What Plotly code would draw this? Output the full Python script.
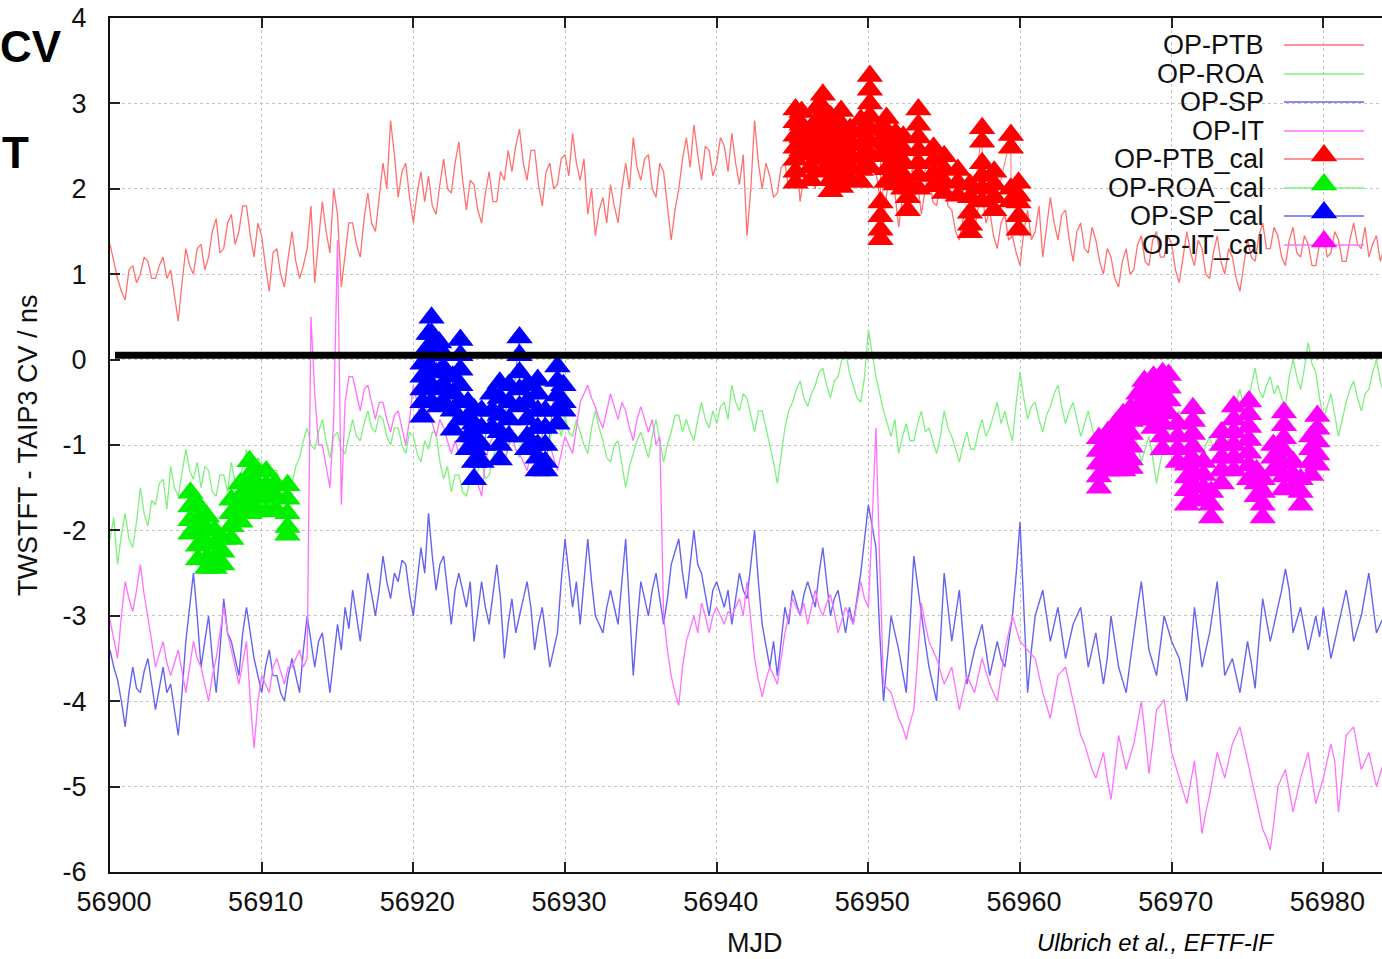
import plotly.graph_objects as go

# ---------------- data (MJD grid: 4 samples per day from 56900) ----------------
MJD_START = 56900
STEP = 0.25

OP_PTB = [
    1.35, 1.15, 0.95, 0.8,   0.7, 1.05, 1.1, 0.9,   1.0, 1.2, 1.15, 0.95,   0.95, 1.1, 1.2, 0.95,   1.05, 0.75, 0.45, 0.9,
    1.3, 1.1, 1.0, 1.3,   1.35, 1.05, 1.2, 1.5,   1.65, 1.25, 1.3, 1.6,   1.7, 1.35, 1.5, 1.8,   1.8, 1.45, 1.2, 1.6,
    1.45, 1.1, 0.8, 1.25,   1.3, 1.0, 0.85, 1.2,   1.5, 1.15, 0.95, 1.1,   1.3, 1.8, 0.9, 1.4,   1.85, 1.5, 1.25, 2.0,
    1.7, 0.85, 1.25, 1.6,   1.6, 1.35, 1.2, 1.65,   1.95, 1.6, 1.5, 1.9,   2.3, 2.0, 2.8, 2.4,   1.9, 2.2, 2.3, 1.9,
    1.6, 1.95, 2.2, 1.85,   2.15, 1.8, 1.7, 2.05,   2.35, 2.0, 1.95, 2.3,   2.55, 2.1, 1.75, 2.1,   2.05, 1.75, 1.6, 1.95,
    2.2, 1.85, 1.85, 2.2,   2.1, 2.45, 2.2, 2.5,   2.7, 2.3, 2.1, 2.45,   2.45, 2.05, 1.8, 2.2,   2.3, 2.0, 2.05, 2.35,
    2.4, 2.15, 2.65, 2.3,   2.1, 2.35, 1.7, 2.0,   1.45, 1.75, 1.9, 1.6,   2.05, 1.8, 1.6, 2.0,   2.3, 2.0, 2.6, 2.25,
    2.1, 2.35, 2.4, 2.0,   1.9, 2.3, 2.2, 1.8,   1.4, 1.75, 2.0, 2.35,   2.6, 2.25, 2.75, 2.4,   2.1, 2.5, 2.45, 2.15,
    2.3, 2.6, 2.5, 2.2,   2.65, 2.3, 2.05, 2.4,   1.45, 2.0, 2.8, 2.3,   2.0, 2.3, 2.15, 1.9,   1.95, 2.25, 2.3, 2.0,
    2.2, 2.45, 1.85, 2.15,   2.4, 2.1, 2.0, 2.35,   2.6, 2.25, 2.2, 2.5,   2.3, 2.0, 2.6, 2.3,   2.45, 2.15, 2.1, 2.4,
    2.7, 2.35, 2.2, 1.9,   1.6, 2.0, 2.3, 1.95,   1.55, 1.9, 2.1, 1.8,   2.4, 2.05, 1.7, 2.0,   2.2, 1.85, 1.8, 2.1,
    2.1, 1.8, 1.75, 1.5,   1.4, 1.65, 1.8, 1.5,   1.5, 1.8, 1.95, 1.6,   1.75, 1.45, 1.3, 1.6,   1.7, 1.4, 1.45, 1.25,
    1.1, 1.5, 1.75, 1.4,   1.5, 1.8, 1.2, 1.55,   1.9, 1.6, 1.4, 1.7,   1.75, 1.4, 1.15, 1.5,   1.6, 1.3, 1.25, 1.55,
    1.4, 1.15, 1.0, 1.3,   1.2, 0.95, 0.85, 1.15,   1.3, 1.0, 1.05, 1.35,   1.45, 1.15, 1.1, 1.4,   1.5, 1.2, 1.2, 1.45,
    1.35, 1.05, 0.9, 1.2,   1.5, 1.25, 1.1, 1.4,   1.3, 1.0, 0.95, 1.25,   1.45, 1.15, 1.0, 1.3,   1.2, 0.95, 0.8, 1.1,
    1.4, 1.2, 1.15, 1.45,   1.6, 1.3, 1.3, 1.55,   1.45, 1.2, 1.1, 1.4,   1.55, 1.25, 1.2, 1.45,   1.35, 1.1, 1.1, 1.35,
    1.5, 1.2, 1.25, 1.5,   1.4, 1.15, 1.15, 1.4,   1.6, 1.35, 1.3, 1.55,   1.2, 1.35, 1.45, 1.15,   1.3,
]

OP_ROA = [
    -2.1, -1.85, -2.4, -2.05,   -1.8, -2.1, -2.2, -1.9,   -1.5, -1.8, -1.95, -1.65,   -1.7, -1.45, -1.4, -1.75,   -1.25, -1.5, -1.6, -1.3,
    -1.05, -1.3, -1.4, -1.2,   -1.5, -1.25, -1.3, -1.55,   -1.6, -1.35, -1.35, -1.55,   -1.2, -1.45, -1.45, -1.25,   -1.05, -1.3, -1.35, -1.15,
    -1.2, -1.4, -1.5, -1.3,   -1.3, -1.5, -1.6, -1.35,   -1.45, -1.25, -1.15, -0.95,   -0.8, -1.0, -1.05, -0.85,   -0.7, -0.95, -1.15, -0.9,
    -0.85, -1.05, -1.1, -0.9,   -0.7, -0.9, -0.95, -0.75,   -0.6, -0.8, -0.85, -0.65,   -0.7, -0.9, -1.0, -0.8,   -0.8, -1.0, -1.1, -0.85,
    -0.9, -1.1, -1.2, -0.95,   -1.05, -0.85, -0.85, -1.2,   -1.4, -1.25, -1.55, -1.35,   -1.35, -1.55, -1.6, -1.4,   -1.45, -1.3, -1.2, -1.4,
    -1.35, -1.15, -1.0, -1.2,   -1.2, -1.0, -0.85, -1.05,   -1.15, -0.9, -0.95, -1.15,   -0.9, -1.1, -1.25, -1.05,   -0.95, -0.75, -0.7, -0.9,
    -0.65, -0.85, -0.9, -0.7,   -0.85, -1.0, -1.1, -0.8,   -0.6, -0.8, -0.95, -1.15,   -1.2, -1.0, -0.95, -1.25,   -1.5, -1.25, -1.1, -0.95,
    -0.85, -1.0, -1.15, -0.9,   -0.7, -0.95, -1.2, -1.0,   -0.85, -0.65, -0.65, -0.85,   -0.7, -0.85, -0.95, -0.7,   -0.5, -0.7, -0.8, -0.6,
    -0.75, -0.55, -0.5, -0.7,   -0.3, -0.5, -0.6, -0.4,   -0.45, -0.65, -0.85, -0.6,   -0.6, -0.8, -1.0, -1.2,   -1.45, -1.1, -0.8, -0.6,
    -0.5, -0.35, -0.25, -0.45,   -0.55, -0.4, -0.3, -0.15,   -0.1, -0.3, -0.45, -0.25,   -0.2, 0.0, 0.1, -0.15,   -0.3, -0.45, -0.5, -0.2,
    0.35, 0.05, -0.2, -0.4,   -0.6, -0.75, -0.9, -0.7,   -1.1, -0.9, -0.75, -0.95,   -0.95, -0.75, -0.6, -0.85,   -0.8, -0.95, -1.1, -0.9,
    -0.6, -0.8, -0.9, -1.05,   -1.2, -1.0, -0.85, -1.05,   -1.05, -0.85, -0.7, -0.9,   -0.8, -0.65, -0.5, -0.75,   -0.6, -0.8, -0.95, -0.5,
    -0.15, -0.45, -0.7, -0.55,   -0.5, -0.7, -0.85, -0.65,   -0.55, -0.4, -0.3, -0.55,   -0.75, -0.6, -0.5, -0.7,   -0.9, -0.75, -0.6, -0.8,
    -0.95, -1.1, -1.15, -0.9,   -0.7, -0.85, -0.95, -0.75,   -0.6, -0.75, -0.85, -1.0,   -1.2, -1.05, -0.9, -1.15,   -1.45, -1.2, -1.0, -0.85,
    -0.8, -0.65, -0.6, -0.8,   -0.85, -1.0, -1.1, -0.95,   -1.15, -1.0, -0.9, -1.05,   -0.9, -1.05, -1.2, -0.9,   -0.65, -0.5, -0.35, -0.55,
    -0.6, -0.3, -0.1, -0.35,   -0.45, -0.3, -0.2, -0.4,   -0.3, -0.45, -0.55, -0.2,   0.0, -0.2, -0.35, -0.1,   0.2, -0.05, -0.15, -0.45,
    -0.7, -0.55, -0.4, -0.65,   -0.9, -0.7, -0.5, -0.35,   -0.25, -0.45, -0.6, -0.4,   -0.35, -0.15, 0.0, -0.25,   -0.4,
]

OP_SP = [
    -3.4, -3.6, -3.75, -4.0,   -4.3, -3.9, -3.6, -3.85,   -3.9, -3.65, -3.5, -3.8,   -4.1, -3.85, -3.6, -3.9,   -3.8, -4.1, -4.4, -3.9,
    -3.3, -2.9, -2.5, -3.0,   -3.6, -3.3, -3.0, -3.5,   -3.9, -3.4, -2.8, -3.2,   -3.3, -3.5, -3.7, -3.2,   -2.9, -3.2, -3.5, -3.7,
    -3.9, -3.6, -3.4, -3.7,   -3.7, -3.9, -4.0, -3.7,   -3.5, -3.7, -3.9, -3.4,   -3.0, -3.3, -3.6, -3.3,   -3.2, -3.55, -3.9, -3.5,
    -3.1, -3.4, -2.9, -3.15,   -2.7, -3.0, -3.3, -2.9,   -2.5, -2.75, -3.0, -2.7,   -2.3, -2.6, -2.8, -2.5,   -2.6, -2.35, -2.4, -2.75,
    -3.0, -2.6, -2.2, -2.5,   -1.8, -2.3, -2.7, -2.4,   -2.3, -2.7, -3.1, -2.7,   -2.5, -2.7, -2.9, -2.6,   -3.3, -2.95, -2.6, -2.9,
    -3.1, -2.75, -2.4, -2.8,   -3.5, -3.1, -2.8, -3.2,   -3.0, -2.8, -2.6, -2.9,   -3.4, -3.1, -2.9, -3.25,   -3.6, -3.4, -3.2, -2.6,
    -2.1, -2.5, -2.9, -2.6,   -3.1, -2.6, -2.1, -2.6,   -3.0, -3.1, -3.2, -2.9,   -2.7, -2.9, -3.1, -2.6,   -2.1, -2.9, -3.7, -3.1,
    -2.6, -2.8, -3.0, -2.7,   -2.5, -2.8, -3.1, -2.8,   -2.4, -2.25, -2.1, -2.5,   -2.8, -2.4, -2.0, -2.4,   -2.5, -2.75, -3.0, -2.7,
    -2.6, -2.75, -2.9, -2.7,   -3.1, -2.8, -2.5, -2.7,   -2.8, -2.4, -2.0, -2.6,   -3.1, -3.35, -3.6, -3.3,   -3.7, -3.3, -2.9, -3.1,
    -2.7, -2.85, -3.0, -2.75,   -2.6, -2.75, -2.9, -2.5,   -2.2, -2.6, -3.0, -2.8,   -2.7, -2.95, -3.2, -2.9,   -3.1, -2.8, -2.5, -2.1,
    -1.7, -1.95, -2.2, -3.2,   -4.0, -3.5, -3.0, -3.2,   -3.4, -3.65, -3.9, -3.1,   -2.3, -2.65, -3.0, -3.3,   -3.6, -3.8, -4.0, -3.3,
    -2.5, -2.9, -3.3, -3.0,   -2.7, -3.25, -3.8, -3.6,   -3.4, -3.25, -3.1, -3.4,   -3.7, -3.5, -3.3, -3.5,   -3.6, -3.3, -3.0, -2.5,
    -1.9, -2.9, -3.9, -3.4,   -3.0, -2.85, -2.7, -3.0,   -3.3, -3.1, -2.9, -3.2,   -3.5, -3.3, -3.1, -3.0,   -2.9, -3.25, -3.6, -3.4,
    -3.2, -3.5, -3.8, -3.5,   -3.0, -3.3, -3.6, -3.75,   -3.9, -3.55, -3.2, -2.9,   -2.6, -3.0, -3.4, -3.55,   -3.7, -3.35, -3.0, -3.15,
    -3.3, -3.4, -3.5, -3.75,   -4.0, -3.45, -2.9, -3.25,   -3.6, -3.4, -3.2, -2.9,   -2.6, -3.15, -3.7, -3.6,   -3.5, -3.7, -3.9, -3.6,
    -3.3, -3.55, -3.85, -3.3,   -2.8, -3.05, -3.3, -3.1,   -2.9, -2.7, -2.45, -2.7,   -3.2, -3.05, -2.9, -3.15,   -3.4, -3.2, -3.0, -3.25,
    -2.9, -3.2, -3.5, -3.3,   -3.1, -2.9, -2.7, -2.95,   -3.3, -3.15, -3.0, -2.75,   -2.5, -2.85, -3.2, -3.1,   -3.0,
]

OP_IT = [
    -3.05, -3.3, -3.5, -3.0,   -2.6, -2.8, -2.95, -2.7,   -2.4, -2.75, -3.0, -3.3,   -3.6, -3.45, -3.3, -3.55,   -3.7, -3.55, -3.4, -3.65,
    -3.9, -3.6, -3.3, -3.5,   -3.6, -3.8, -4.0, -3.7,   -3.5, -3.2, -2.9, -3.2,   -3.4, -3.6, -3.8, -3.55,   -3.3, -4.0, -4.55, -4.0,
    -3.7, -3.8, -3.9, -3.6,   -3.5, -3.65, -3.8, -3.6,   -3.6, -3.5, -3.4, -3.6,   -3.5, 0.5, -0.4, -1.0,   -1.0, -1.25, -1.5, -0.7,
    1.4, -1.7, -0.5, -0.2,   -0.2, -0.4, -0.6, -0.35,   -0.3, -0.5, -0.7, -0.5,   -0.5, -0.7, -0.85, -0.65,   -0.6, -0.8, -1.0, -0.7,
    -0.3, -0.5, -0.7, -0.55,   -0.6, -0.75, -0.9, -0.7,   -0.8, -0.95, -1.1, -0.95,   -1.1, -1.0, -0.9, -1.1,   -1.3, -1.45, -1.6, -1.2,
    -1.0, -0.9, -0.8, -1.0,   -1.2, -1.05, -0.9, -1.05,   -1.1, -1.2, -1.3, -1.1,   -0.9, -1.05, -1.2, -1.05,   -1.0, -1.15, -1.3, -1.1,
    -0.9, -1.0, -1.1, -0.8,   -0.5, -0.4, -0.3, -0.45,   -0.55, -0.7, -0.8, -0.6,   -0.4, -0.55, -0.7, -0.5,   -0.6, -0.8, -0.95, -0.7,
    -0.55, -0.7, -0.85, -0.7,   -1.0, -0.9, -3.0, -3.4,   -3.7, -3.9, -4.05, -3.6,   -3.3, -3.15, -3.0, -3.2,   -2.85, -3.0, -3.2, -3.0,
    -2.9, -3.0, -3.1, -2.95,   -3.0, -2.9, -2.8, -3.0,   -2.6, -3.05, -3.5, -3.75,   -3.95, -3.75, -3.6, -3.7,   -3.8, -3.5, -3.2, -3.0,
    -2.8, -2.9, -3.0, -2.85,   -3.1, -2.9, -2.7, -2.9,   -3.0, -2.85, -2.75, -2.95,   -3.2, -3.05, -2.9, -3.0,   -3.1, -2.85, -2.6, -2.8,
    -2.9, -1.9, -0.8, -2.4,   -3.8, -3.85, -3.9, -4.05,   -4.2, -4.3, -4.45, -4.25,   -4.1, -3.5, -2.85, -3.1,   -3.3, -3.4, -3.5, -3.65,
    -3.8, -3.7, -3.6, -3.85,   -4.1, -3.9, -3.7, -3.8,   -3.9, -3.7, -3.5, -3.65,   -3.8, -3.9, -4.0, -3.7,   -3.4, -3.2, -3.0, -3.15,
    -3.3, -3.35, -3.4, -3.45,   -3.5, -3.7, -3.9, -4.05,   -4.2, -3.95, -3.7, -3.65,   -3.6, -3.8, -4.0, -4.2,   -4.4, -4.5, -4.65, -4.8,
    -4.9, -4.75, -4.6, -4.9,   -5.15, -4.8, -4.4, -4.6,   -4.8, -4.65, -4.5, -4.25,   -4.0, -4.4, -4.85, -4.5,   -4.1, -4.05, -3.98, -4.3,
    -4.6, -4.75, -4.9, -5.05,   -5.2, -4.95, -4.7, -5.1,   -5.55, -5.3, -5.1, -4.85,   -4.6, -4.75, -4.9, -4.7,   -4.5, -4.4, -4.3, -4.5,
    -4.7, -4.9, -5.1, -5.3,   -5.5, -5.6, -5.74, -5.4,   -5.0, -4.9, -4.8, -5.05,   -5.3, -5.1, -4.9, -4.75,   -4.6, -4.9, -5.2, -5.05,
    -4.9, -4.7, -4.5, -4.7,   -5.3, -4.85, -4.4, -4.35,   -4.3, -4.55, -4.8, -4.7,   -4.6, -4.8, -5.0, -4.85,   -4.7,
]

# calibration campaigns: (MJD, [values stacked at that MJD])
PTB_CAL = [
    (56945.2, [2.93, 2.78, 2.62, 2.48, 2.34, 2.2, 2.07]),
    (56945.6, [2.9, 2.75, 2.6, 2.45]),
    (56946.2, [2.7, 2.55, 2.4, 2.25, 2.1]),
    (56946.6, [2.95, 2.8, 2.65, 2.5, 2.35]),
    (56947.0, [3.1, 2.95, 2.8, 2.65, 2.5, 2.35, 2.2]),
    (56947.5, [2.85, 2.7, 2.55, 2.4, 2.25, 2.1, 1.97]),
    (56948.2, [2.91, 2.76, 2.61, 2.46, 2.31, 2.16, 2.02]),
    (56948.8, [2.7, 2.55, 2.4, 2.25, 2.1]),
    (56949.5, [2.81, 2.66, 2.51, 2.36, 2.22, 2.08]),
    (56950.1, [3.32, 3.16, 3.0, 2.85, 2.7, 2.55, 2.4, 2.25]),
    (56950.8, [2.7, 2.55, 2.4, 1.84, 1.68, 1.52, 1.41]),
    (56951.2, [2.83, 2.68, 2.53, 2.38, 2.23, 2.08]),
    (56951.8, [2.65, 2.5, 2.35, 2.2, 2.05]),
    (56952.3, [2.61, 2.46, 2.31, 2.16, 2.0]),
    (56952.6, [2.05, 1.9, 1.75]),
    (56953.3, [2.93, 2.75, 2.6, 2.45, 2.3, 2.15, 2.0]),
    (56954.3, [2.48, 2.33, 2.18, 2.03]),
    (56955.0, [2.38, 2.23, 2.08, 1.95]),
    (56955.9, [2.22, 2.07, 1.92]),
    (56956.7, [2.05, 1.9, 1.72, 1.58, 1.49]),
    (56957.5, [2.71, 2.55, 2.3, 2.15, 2.0, 1.85]),
    (56958.3, [2.2, 2.05, 1.9, 1.75]),
    (56959.4, [2.63, 2.48, 2.0, 1.85]),
    (56959.9, [2.07, 1.92, 1.84, 1.68, 1.52]),
]

ROA_CAL = [
    (56905.3, [-1.56, -1.72, -1.88, -2.04]),
    (56905.8, [-1.7, -1.86, -2.02, -2.18, -2.34]),
    (56906.4, [-1.84, -2.0, -2.16, -2.32, -2.44]),
    (56906.9, [-2.0, -2.16, -2.32, -2.44]),
    (56907.4, [-2.1, -2.25, -2.4]),
    (56908.0, [-1.64, -1.8, -1.95, -2.1]),
    (56908.6, [-1.45, -1.6, -1.75, -1.9]),
    (56909.2, [-1.19, -1.35, -1.5, -1.65, -1.8]),
    (56909.7, [-1.3, -1.45, -1.6, -1.75]),
    (56910.3, [-1.31, -1.47, -1.62, -1.78]),
    (56910.9, [-1.45, -1.6, -1.75]),
    (56911.7, [-1.47, -1.63, -1.8, -1.96, -2.05]),
]

SP_CAL = [
    (56920.6, [-0.05, -0.2, -0.35, -0.5, -0.67]),
    (56921.0, [0.3, 0.15]),
    (56921.2, [0.49, 0.3, 0.1, -0.1, -0.3, -0.5]),
    (56921.7, [0.2, 0.05, -0.15, -0.35, -0.55]),
    (56922.0, [0.06, -0.1, -0.3, -0.5]),
    (56922.6, [-0.2, -0.4, -0.6, -0.82]),
    (56923.1, [0.23, 0.05, -0.12, -0.3, -0.5, -0.7]),
    (56923.6, [-0.5, -0.7, -0.9, -1.05]),
    (56924.0, [-0.58, -0.75, -0.9, -1.05, -1.2, -1.4]),
    (56924.5, [-0.6, -0.8, -1.0, -1.2]),
    (56925.2, [-0.4, -0.6, -0.8]),
    (56925.7, [-0.27, -0.45, -0.65, -0.85, -1.0, -1.17]),
    (56926.3, [-0.3, -0.5, -0.7, -0.9]),
    (56927.0, [0.26, 0.05, -0.15, -0.35, -0.55]),
    (56927.5, [-0.3, -0.5, -0.7, -0.9, -1.05]),
    (56928.2, [-0.24, -0.4, -0.6, -0.8, -1.0, -1.15, -1.3]),
    (56928.7, [-0.6, -0.8, -1.0, -1.2, -1.3]),
    (56929.5, [-0.08, -0.25, -0.42, -0.58, -0.75]),
    (56929.9, [-0.3, -0.5, -0.6]),
]

IT_CAL = [
    (56965.2, [-0.92, -1.07, -1.22, -1.37, -1.5]),
    (56965.8, [-0.85, -1.0, -1.15, -1.3]),
    (56966.3, [-0.75, -0.9, -1.05, -1.2, -1.3]),
    (56966.8, [-0.64, -0.8, -0.95, -1.1, -1.3]),
    (56967.3, [-0.57, -0.72, -0.87, -1.02, -1.17, -1.27]),
    (56967.8, [-0.4, -0.55, -0.7]),
    (56968.2, [-0.25, -0.4, -0.55, -0.7]),
    (56968.8, [-0.2, -0.35, -0.5, -0.65, -0.8]),
    (56969.4, [-0.16, -0.3, -0.45, -0.6, -0.75, -0.9, -1.05]),
    (56969.8, [-0.18, -0.33, -0.48, -0.63]),
    (56970.4, [-0.75, -0.9, -1.05, -1.2]),
    (56971.0, [-1.23, -1.38, -1.53, -1.7]),
    (56971.4, [-0.57, -0.72, -0.87, -1.02, -1.17, -1.32, -1.47, -1.62]),
    (56972.1, [-1.2, -1.35, -1.5, -1.65]),
    (56972.6, [-1.55, -1.7, -1.85]),
    (56973.3, [-0.85, -1.0, -1.15, -1.3, -1.45]),
    (56974.1, [-0.55, -0.7, -0.85, -1.0, -1.15, -1.3]),
    (56975.1, [-0.49, -0.64, -0.79, -0.94, -1.09, -1.24, -1.4]),
    (56975.6, [-1.3, -1.45, -1.6]),
    (56976.0, [-1.4, -1.55, -1.7, -1.85]),
    (56976.7, [-1.0, -1.15, -1.3]),
    (56977.4, [-0.62, -0.77, -0.92, -1.07, -1.22, -1.37, -1.52]),
    (56978.0, [-1.2, -1.35, -1.5]),
    (56978.5, [-1.4, -1.55, -1.7]),
    (56979.2, [-0.9, -1.05, -1.2, -1.35]),
    (56979.6, [-0.66, -0.81, -0.96, -1.11, -1.23]),
]

X_TICKS = [56900, 56910, 56920, 56930, 56940, 56950, 56960, 56970, 56980]
Y_TICKS = [-6, -5, -4, -3, -2, -1, 0, 1, 2, 3, 4]
Y_TICK_TEXT = ["-6", "-5", "-4", "-3", "-2", "-1", "0", "1", "2", "3", "4"]
REF_LEVEL = 0.05          # thick black reference line
LEGEND_NAMES = ["OP-PTB", "OP-ROA", "OP-SP", "OP-IT",
                "OP-PTB_cal", "OP-ROA_cal", "OP-SP_cal", "OP-IT_cal"]

# ---------------- styling ----------------
LINE_COL = {"PTB": "#ff7070", "ROA": "#7ef07e", "SP": "#6464f0", "IT": "#ff70ff"}
MARK_COL = {"PTB": "#ff0000", "ROA": "#00f000", "SP": "#0000ff", "IT": "#ff00ff"}
FONT = "Liberation Sans, Arial, sans-serif"
W, H = 1382, 959
ML, MR, MT, MB = 110, 0, 18, 87
PX_PER_DAY = 15.167
X_MAX = MJD_START + (W - ML - MR) / PX_PER_DAY
TRI = 23


def grid(series):
    return [MJD_START + STEP * i for i in range(len(series))]


def flatten(stacks):
    xs, ys = [], []
    for x, col in stacks:
        for y in col:
            xs.append(x)
            ys.append(y)
    return xs, ys


fig = go.Figure()
for key, series in [("PTB", OP_PTB), ("ROA", OP_ROA), ("SP", OP_SP), ("IT", OP_IT)]:
    fig.add_trace(go.Scatter(x=grid(series), y=series, mode="lines",
                             line=dict(color=LINE_COL[key], width=1.4 if key == "SP" else 1.3),
                             showlegend=False, hoverinfo="skip"))

for key, stacks in [("PTB", PTB_CAL), ("ROA", ROA_CAL), ("SP", SP_CAL), ("IT", IT_CAL)]:
    xs, ys = flatten(stacks)
    fig.add_trace(go.Scatter(x=xs, y=ys, mode="lines+markers",
                             line=dict(color=LINE_COL[key], width=1),
                             marker=dict(symbol="triangle-up", size=TRI, color=MARK_COL[key],
                                         line=dict(width=0)),
                             showlegend=False, hoverinfo="skip"))

# ---------------- custom legend (text left of sample, gnuplot style) ----------------
def px_to_py(py):
    return (H - MB - py) / (H - MB - MT)


def px_to_px(px):
    return (px - ML) / (W - ML - MR)


row_y = [45, 74, 102, 131, 159, 188, 216, 245]
keys = ["PTB", "ROA", "SP", "IT"] * 2
lx0, lxm, lx1 = px_to_px(1284), px_to_px(1324), px_to_px(1364)
annotations = []
for i, (name, key, ry) in enumerate(zip(LEGEND_NAMES, keys, row_y)):
    yy = px_to_py(ry)
    annotations.append(dict(x=px_to_px(1266), y=yy, xref="paper", yref="paper", text=name,
                            showarrow=False, xanchor="right", yanchor="middle",
                            font=dict(family=FONT, size=27, color="#111")))
    fig.add_trace(go.Scatter(x=[lx0, lx1], y=[yy, yy], mode="lines", xaxis="x2", yaxis="y2",
                             line=dict(color=LINE_COL[key], width=1.3),
                             showlegend=False, hoverinfo="skip"))
    if i >= 4:
        fig.add_trace(go.Scatter(x=[lxm], y=[yy + 0.004], mode="markers", xaxis="x2", yaxis="y2",
                                 marker=dict(symbol="triangle-up", size=TRI, color=MARK_COL[key],
                                             line=dict(width=0)),
                                 showlegend=False, hoverinfo="skip"))

# axis titles and slide fragments
annotations += [
    dict(x=px_to_px(755), y=px_to_py(943), xref="paper", yref="paper", text="MJD",
         showarrow=False, xanchor="center", yanchor="middle",
         font=dict(family=FONT, size=27, color="#111")),
    dict(x=px_to_px(28), y=px_to_py(445), xref="paper", yref="paper",
         text="TWSTFT - TAIP3 CV / ns", textangle=-90, showarrow=False,
         xanchor="center", yanchor="middle", font=dict(family=FONT, size=27, color="#111")),
    dict(x=px_to_px(64), y=px_to_py(46), xref="paper", yref="paper", text="<b>CV</b>",
         showarrow=False, xanchor="right", yanchor="middle",
         font=dict(family=FONT, size=44, color="#000")),
    dict(x=px_to_px(31), y=px_to_py(153), xref="paper", yref="paper", text="<b>T</b>",
         showarrow=False, xanchor="right", yanchor="middle",
         font=dict(family=FONT, size=44, color="#000")),
    dict(x=px_to_px(1035), y=px_to_py(958), xref="paper", yref="paper",
         text="<i>Ulbrich et al., EFTF-IF</i>", showarrow=False, xanchor="left",
         yanchor="bottom", font=dict(family=FONT, size=24, color="#000")),
]

shapes = [
    # key area keeps grid lines clear
    dict(type="rect", xref="paper", yref="paper", x0=px_to_px(1094), x1=1.0,
         y0=px_to_py(268), y1=1.0, fillcolor="white", line=dict(width=0), layer="between"),
    # thick reference line
    dict(type="line", xref="x", yref="y", x0=MJD_START + 0.33, x1=X_MAX + 5,
         y0=REF_LEVEL, y1=REF_LEVEL, line=dict(color="black", width=7), layer="above"),
]

fig.update_layout(
    width=W, height=H, margin=dict(l=ML, r=MR, t=MT, b=MB, pad=0),
    paper_bgcolor="white", plot_bgcolor="white", showlegend=False,
    annotations=annotations, shapes=shapes,
    xaxis=dict(range=[MJD_START, X_MAX], tickvals=X_TICKS, ticktext=[str(v) for v in X_TICKS],
               ticks="inside", ticklen=10, tickwidth=1.5, tickcolor="#222",
               showline=True, linecolor="#111", linewidth=2, mirror="ticks",
               showgrid=True, gridcolor="#c4c4c4", griddash="dot", gridwidth=1,
               zeroline=False, ticklabelstandoff=5, ticklabelshift=4,
               tickfont=dict(family=FONT, size=27, color="#111")),
    yaxis=dict(range=[-6, 4], tickvals=Y_TICKS, ticktext=Y_TICK_TEXT,
               ticks="inside", ticklen=10, tickwidth=1.5, tickcolor="#222",
               showline=True, linecolor="#111", linewidth=2,
               showgrid=True, gridcolor="#c4c4c4", griddash="dot", gridwidth=1,
               zeroline=False, ticklabelstandoff=16,
               tickfont=dict(family=FONT, size=27, color="#111")),
    xaxis2=dict(range=[0, 1], overlaying="x", anchor="y2", visible=False),
    yaxis2=dict(range=[0, 1], overlaying="y", anchor="x2", visible=False),
)

fig.write_html("out.html")
